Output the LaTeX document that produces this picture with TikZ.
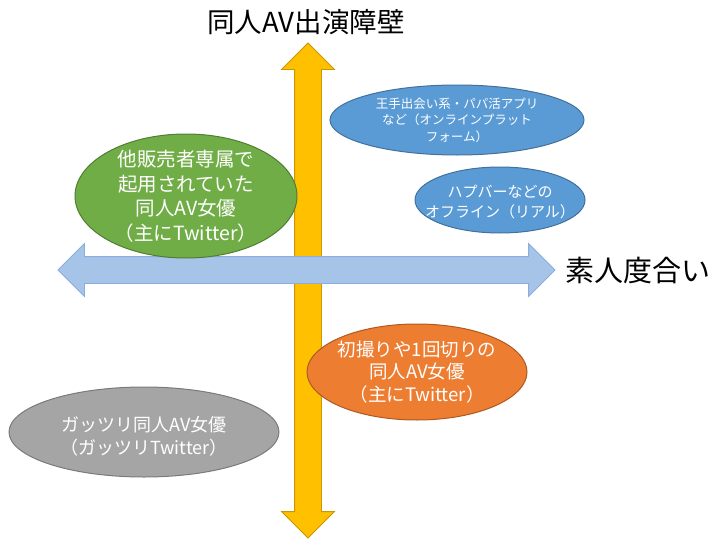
\documentclass[tikz,border=0pt]{standalone}
\usepackage{fontspec}
\newfontfamily\jpfont{Noto Sans CJK JP}
\usetikzlibrary{shapes.geometric,shapes.arrows}

\definecolor{barrieryellow}{HTML}{FFC000}
\definecolor{barrierline}{HTML}{C99700}
\definecolor{amateurblue}{HTML}{A6C3E8}
\definecolor{amateurline}{HTML}{8AAEDC}
\definecolor{onlineblue}{HTML}{5B9BD5}
\definecolor{onlineline}{HTML}{41719C}
\definecolor{exclgreen}{HTML}{70AD47}
\definecolor{exclline}{HTML}{507E32}
\definecolor{debutorange}{HTML}{ED7D31}
\definecolor{debutline}{HTML}{AE5A21}
\definecolor{heavygray}{HTML}{A5A5A5}
\definecolor{heavyline}{HTML}{7A7A7A}

\begin{document}
\begin{tikzpicture}[
    x=1pt, y=-1pt,
    axisarrow/.style={double arrow, double arrow head extend=13pt, double arrow tip angle=90,
        inner xsep=0pt, inner ysep=13pt, minimum width=52pt, line width=0.8pt},
    axistitle/.style={font=\jpfont\fontsize{29}{33}\selectfont, text=black, inner sep=0pt},
    bubble/.style={ellipse, line width=1pt, inner sep=0pt},
    bubbletext/.style={text=white, align=center, inner sep=0pt}
]
\useasboundingbox (0,0) rectangle (720,543);

% axes
\node[axisarrow, rotate=90, minimum height=495pt, fill=barrieryellow, draw=barrierline] (vaxis) at (308,290.5) {};
\node[axisarrow, minimum height=497pt, fill=amateurblue, draw=amateurline] (haxis) at (306.5,270) {};

\node[axistitle, font=\jpfont\fontsize{27.5}{32}\selectfont] (vtitle) at (306,22) {同人AV出演障壁};
\node[axistitle, anchor=west] (htitle) at (565,270) {素人度合い};

% groups
\node[bubble, fill=onlineblue, draw=onlineline, minimum width=254pt, minimum height=70pt,
    label={[bubbletext, font=\jpfont\fontsize{12.5}{16.5}\selectfont]center:{王手出会い系・パパ活アプリ\\など（オンラインプラット\\フォーム）}}]
    (online) at (457,120) {};
\node[bubble, fill=onlineblue, draw=onlineline, minimum width=170pt, minimum height=66pt,
    label={[bubbletext, font=\jpfont\fontsize{15}{19.5}\selectfont, yshift=-2pt]center:{ハプバーなどの\\オフライン（リアル）}}]
    (offline) at (500,200) {};
\node[bubble, fill=exclgreen, draw=exclline, minimum width=222pt, minimum height=124pt,
    label={[bubbletext, font=\jpfont\fontsize{19.5}{24.5}\selectfont]center:{他販売者専属で\\起用されていた\\同人AV女優\\（主にTwitter）}}]
    (exclusive) at (186,196) {};
\node[bubble, fill=debutorange, draw=debutline, minimum width=220pt, minimum height=96pt,
    label={[bubbletext, font=\jpfont\fontsize{18.5}{22.5}\selectfont]center:{初撮りや1回切りの\\同人AV女優\\（主にTwitter）}}]
    (debut) at (417,372) {};
\node[bubble, fill=heavygray, draw=heavyline, minimum width=270pt, minimum height=90pt,
    label={[bubbletext, font=\jpfont\fontsize{18}{23}\selectfont, yshift=-4pt]center:{ガッツリ同人AV女優\\（ガッツリTwitter）}}]
    (heavy) at (144,432) {};

\end{tikzpicture}
\end{document}
